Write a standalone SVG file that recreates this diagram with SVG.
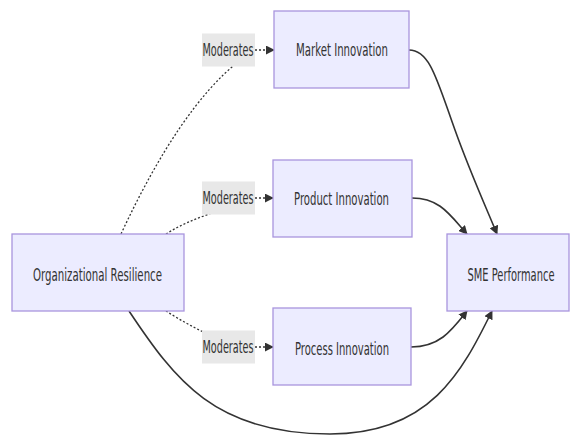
<svg xmlns="http://www.w3.org/2000/svg" width="571" height="436" viewBox="0 0 571 436">
<style>
.node rect{fill:#ECECFF;stroke:#A995DE;stroke-width:1.3}
.lbl rect{fill:#E8E8E8;stroke:none}
text{font-family:"DejaVu Sans","Liberation Sans",sans-serif;font-size:17.5px;fill:#333;text-anchor:middle}
.solid{fill:none;stroke:#333;stroke-width:1.6}
.dot{fill:none;stroke:#333;stroke-width:1.3;stroke-dasharray:2 2}
</style>
<defs>
<marker id="ah" viewBox="0 0 10 10" refX="9" refY="5" markerWidth="9" markerHeight="9" markerUnits="userSpaceOnUse" orient="auto">
<path d="M0,0 L10,5 L0,10 z" fill="#333"/>
</marker>
</defs>
<g id="connectors">
<path class="dot" d="M121,234 C160,150 200,92 238,62"/>
<path class="dot" d="M166,234 C180,225 195,219 212,213"/>
<path class="dot" d="M166,311 C180,320 198,330 214,337"/>
<path class="dot" d="M255,50 L274,50" marker-end="url(#ah)"/>
<path class="dot" d="M255,198 L273,198" marker-end="url(#ah)"/>
<path class="dot" d="M255,347 L273,347" marker-end="url(#ah)"/>
<path class="solid" d="M409,50 C430,50 437,80 455,130 C470,172 488,212 497,234" marker-end="url(#ah)"/>
<path class="solid" d="M412,198 C440,198 450,215 467,234" marker-end="url(#ah)"/>
<path class="solid" d="M411,347 C440,347 452,330 467,311" marker-end="url(#ah)"/>
<path class="solid" d="M129,311 C175,380 215,434 330,434 C430,434 462,372 492,311" marker-end="url(#ah)"/>
</g>
<g id="lbl1" class="lbl"><rect x="202" y="33.5" width="53" height="33"/><text x="228" y="56" textLength="51" lengthAdjust="spacingAndGlyphs">Moderates</text></g>
<g id="lbl2" class="lbl"><rect x="202" y="181.5" width="53" height="33"/><text x="228" y="204" textLength="51" lengthAdjust="spacingAndGlyphs">Moderates</text></g>
<g id="lbl3" class="lbl"><rect x="202" y="330.5" width="53" height="33"/><text x="228" y="353" textLength="51" lengthAdjust="spacingAndGlyphs">Moderates</text></g>
<g id="market" class="node"><rect x="274" y="11" width="135" height="77"/><text x="342" y="56" textLength="92" lengthAdjust="spacingAndGlyphs">Market Innovation</text></g>
<g id="product" class="node"><rect x="273" y="160" width="139" height="77"/><text x="341.5" y="205" textLength="95" lengthAdjust="spacingAndGlyphs">Product Innovation</text></g>
<g id="process" class="node"><rect x="273" y="308" width="138" height="77"/><text x="342" y="355" textLength="94" lengthAdjust="spacingAndGlyphs">Process Innovation</text></g>
<g id="sme" class="node"><rect x="447" y="234" width="122" height="77"/><text x="511" y="281" textLength="87" lengthAdjust="spacingAndGlyphs">SME Performance</text></g>
<g id="org" class="node"><rect x="12" y="234" width="172" height="77"/><text x="97.5" y="281" textLength="129" lengthAdjust="spacingAndGlyphs">Organizational Resilience</text></g>
</svg>
